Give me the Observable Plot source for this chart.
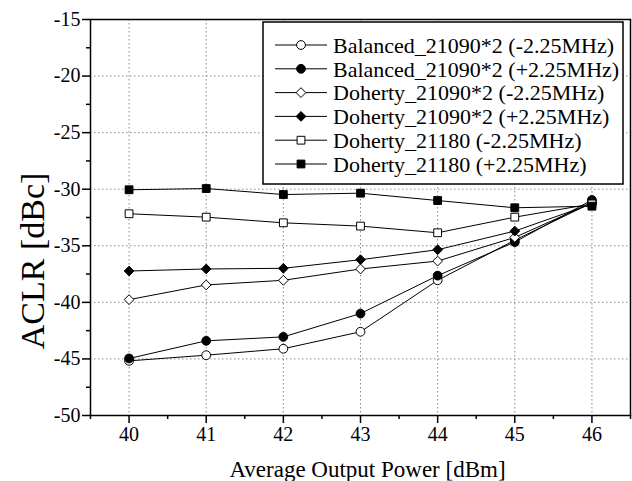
<!DOCTYPE html>
<html>
<head>
<meta charset="utf-8">
<script src="https://cdn.jsdelivr.net/npm/d3@7"></script>
<script src="https://cdn.jsdelivr.net/npm/@observablehq/plot@0.6"></script>
<style>
  html, body { margin: 0; padding: 0; background: white; }
  #chart svg { display: block; }
</style>
</head>
<body>
<div id="chart"></div>
<script>
// ---- data ----
const powers = [40, 41, 42, 43, 44, 45, 46];
const seriesNames = [
  "Balanced_21090*2 (-2.25MHz)",
  "Balanced_21090*2 (+2.25MHz)",
  "Doherty_21090*2 (-2.25MHz)",
  "Doherty_21090*2 (+2.25MHz)",
  "Doherty_21180 (-2.25MHz)",
  "Doherty_21180 (+2.25MHz)"
];
const balancedMinus = [-45.17, -44.67, -44.10, -42.60, -38.05, -34.50, -31.20];
const balancedPlus  = [-44.96, -43.40, -43.05, -40.99, -37.64, -34.67, -30.95];
const dohertyMinus  = [-39.76, -38.46, -38.05, -37.05, -36.35, -34.26, -31.20];
const dohertyPlus   = [-37.23, -37.05, -36.99, -36.23, -35.35, -33.70, -31.30];
const doh21180Minus = [-32.17, -32.47, -32.97, -33.26, -33.85, -32.47, -31.30];
const doh21180Plus  = [-30.05, -29.94, -30.47, -30.35, -31.00, -31.64, -31.50];
const seriesValues = [balancedMinus, balancedPlus, dohertyMinus, dohertyPlus, doh21180Minus, doh21180Plus];
const seriesSymbols = ["circle", "circle", "diamond2", "diamond2", "square", "square"];
const seriesFills = ["white", "black", "white", "black", "white", "black"];

const yMajor = [-50, -45, -40, -35, -30, -25, -20, -15];
const yMinor = [-47.5, -42.5, -37.5, -32.5, -27.5, -22.5, -17.5];
const xMinor = [39.5, 40.5, 41.5, 42.5, 43.5, 44.5, 45.5, 46.5];
const yGrid = [-45, -40, -35, -30, -25, -20];
const xTitle = "Average Output Power [dBm]";
const yTitle = "ACLR [dBc]";

const rows = seriesNames.flatMap((name, i) =>
  powers.map((p, j) => ({series: name, idx: i, x: p, y: seriesValues[i][j]})));

const R = 4.4;
const font = "'Liberation Serif', 'DejaVu Serif', serif";

const dotMarks = seriesNames.map((name, i) =>
  Plot.dot(rows.filter(d => d.idx === i), {
    x: "x", y: "y", r: R, symbol: () => seriesSymbols[i],
    fill: seriesFills[i], stroke: "black", strokeWidth: 1
  }));

const chart = Plot.plot({
  width: 632, height: 481,
  marginLeft: 90, marginRight: 2, marginTop: 19, marginBottom: 66,
  style: {fontFamily: font, fontSize: "20px", color: "black", background: "white"},
  x: {domain: [39.5, 46.5]},
  y: {domain: [-50, -15]},
  marks: [
    Plot.gridX(powers, {stroke: "#8a8a8a", strokeOpacity: 1, strokeDasharray: "1.5,2.5"}),
    Plot.gridY(yGrid, {stroke: "#8a8a8a", strokeOpacity: 1, strokeDasharray: "1.5,2.5"}),
    Plot.line(rows, {x: "x", y: "y", z: "series", stroke: "black", strokeWidth: 1}),
    ...dotMarks,
    Plot.axisX(powers, {tickSize: 8, tickPadding: 3, strokeWidth: 1.5, tickFormat: d => String(d), label: null, fontSize: 20, fontFamily: font}),
    Plot.axisX(xMinor, {tickSize: 4, strokeWidth: 1.5, tickFormat: () => "", label: null}),
    Plot.axisY(yMajor, {tickSize: 8, tickPadding: 2, strokeWidth: 1.5, tickFormat: d => String(d), label: null, fontSize: 20, fontFamily: font}),
    Plot.axisY(yMinor, {tickSize: 4, strokeWidth: 1.5, tickFormat: () => "", label: null}),
    Plot.frame({stroke: "black", strokeWidth: 1.5}),
    Plot.text([xTitle], {frameAnchor: "bottom", dx: 7, dy: 61, lineAnchor: "bottom", fontSize: 23, fontFamily: font, text: d => d})
  ]
});

const svg = d3.select(chart);

// ---- y axis title ----
svg.append("text")
  .attr("transform", "translate(32,261) rotate(-90)")
  .attr("text-anchor", "middle").attr("dy", "0.35em")
  .attr("font-family", font).attr("font-size", 34).attr("fill", "black")
  .text(yTitle);

// ---- legend (drawn into the same svg) ----
const lg = svg.append("g").attr("font-family", font).attr("font-size", 22).attr("text-anchor", "start");
const box = {x: 263, y: 22, w: 360, h: 162};
lg.append("rect").attr("x", box.x).attr("y", box.y).attr("width", box.w).attr("height", box.h)
  .attr("fill", "white").attr("stroke", "black").attr("stroke-width", 1.5);
const symMap = {circle: d3.symbolCircle, square: d3.symbolSquare, diamond2: d3.symbolDiamond2};
seriesNames.forEach((name, i) => {
  const cy = 45 + i * 23.8;
  const g = lg.append("g");
  g.append("line").attr("x1", 275).attr("x2", 327).attr("y1", cy).attr("y2", cy)
    .attr("stroke", "black").attr("stroke-width", 1);
  g.append("path")
    .attr("d", d3.symbol().type(symMap[seriesSymbols[i]]).size(Math.PI * R * R)())
    .attr("transform", `translate(301,${cy})`)
    .attr("fill", seriesFills[i]).attr("stroke", "black").attr("stroke-width", 1);
  g.append("text").attr("x", 333).attr("y", cy).attr("dy", "0.35em").attr("fill", "black")
    .attr("text-anchor", "start").style("font-family", font).text(name);
});

document.getElementById("chart").appendChild(chart);
</script>
</body>
</html>
